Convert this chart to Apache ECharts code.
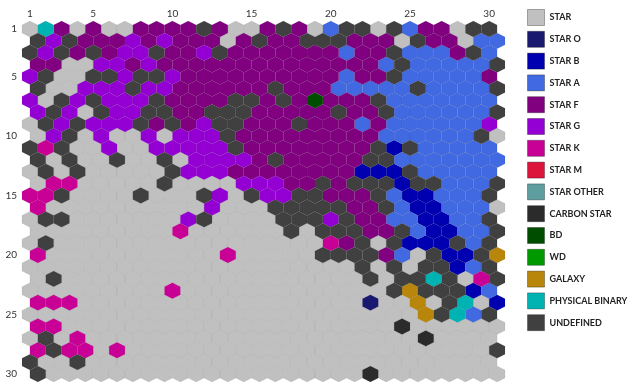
<!DOCTYPE html>
<html>
<head>
<meta charset="utf-8">
<script src="https://cdn.jsdelivr.net/npm/echarts@6/dist/echarts.min.js"></script>
<style>
  html, body { margin: 0; padding: 0; background: #ffffff; }
  #chart { width: 627px; height: 387px; }
</style>
</head>
<body>
<div id="chart"></div>
<script>
// Object classes of the self-organizing map, in legend order
const classNames = ['STAR', 'STAR O', 'STAR B', 'STAR A', 'STAR F', 'STAR G', 'STAR K', 'STAR M',
  'STAR OTHER', 'CARBON STAR', 'BD', 'WD', 'GALAXY', 'PHYSICAL BINARY', 'UNDEFINED'];
const classCodes = ['S', 'O', 'B', 'A', 'F', 'G', 'K', 'M', 'T', 'C', 'D', 'W', 'L', 'P', 'U'];
const classColors = ['#c0c0c0', '#191970', '#0000b0', '#4169e1', '#800080', '#9400d3', '#c90096', '#dc143c',
  '#5f9ea0', '#2b2b2b', '#004d00', '#009a00', '#b8860b', '#00b3b3', '#404040'];

// Dominant class of each map neuron: one string per row (1..30), one letter per column (1..30)
const mapRows = [
  'SPFSFSSFFF' + 'FUFSSFUFSA' + 'UUSUAFFSUU',
  'UGUFFFGFGF' + 'FFSFUFFUUU' + 'FFFSUFFSAA',
  'UGUFUFGGUF' + 'FGUFFFFFFF' + 'AFFUAAAFUA',
  'FFSSGGFGFF' + 'FFFFFFFFFF' + 'FFAUAAAAAU',
  'GUSSUUGUUG' + 'FFFFFFFFFF' + 'AFFUAAAAAF',
  'USSGGGUGGF' + 'FFFFFUFFFA' + 'AAAAUAAAAU',
  'GSUGUGGGUF' + 'FFFUUFUFDF' + 'FFUAAAAAAA',
  'GUGSUGGUUF' + 'FUUUFFFFFU' + 'FFUAAAAAAU',
  'SUGUGGGUFU' + 'FGUUFFFUFF' + 'FAFAAAAAAG',
  'SGUSGSSGSG' + 'GGUFFFFFFF' + 'FFAAAAAAUS',
  'UKUSSGSSGG' + 'GGGUFFFFFF' + 'FFUBUAAAAA',
  'USUSSUSSUS' + 'GGGGFUFFFF' + 'FUUAAAAAAA',
  'SUSUSSSSSU' + 'GGGFFFFFFF' + 'FBBBUAAAAA',
  'SKKSSSSSUS' + 'SSSGGGFFUF' + 'UUUBUUAAAU',
  'KKUSSSSUSS' + 'SUGSUGGUUF' + 'FFUABBAAAU',
  'KSSSSSSSSS' + 'SGSSSUUUUU' + 'FFUABBAAAS',
  'SUUSSSSSSS' + 'GUSSSSUUUG' + 'UFFAABBAAU',
  'SSSSSSSSSK' + 'SSSSSSUSUU' + 'UFFUABBAAU',
  'SUSSSSSSSS' + 'SSSSSSSSSK' + 'FUSUBBBUAU',
  'KSSSSSSSSS' + 'SSKSSSSSUU' + 'UUFASUBBUL',
  'SSSSSSSSSS' + 'SSSSSSSSSS' + 'SUSUSUUBAU',
  'SUSSSSSSSS' + 'SSSSSSSSSS' + 'SUSUUPUSKU',
  'SSSSSSSSSK' + 'SSSSSSSSSS' + 'SSSULUUUBA',
  'KKKSSSSSSS' + 'SSSSSSSSSS' + 'SOSSLSUPSB',
  'SSSSSSSSSS' + 'SSSSSSSSSS' + 'SSSSSLUPAU',
  'KKSSSSSSSS' + 'SSSSSSSSSS' + 'SSSCSSSSSS',
  'SUSKSSSSSS' + 'SSSSSSSSSS' + 'SSSSSCSSSS',
  'KUKKSKSSSS' + 'SSSSSSSSSS' + 'SSSSSSSSSU',
  'USSUSSSSSS' + 'SSSSSSSSSS' + 'SSSSSSSSSS',
  'USSSSSSSSS' + 'SSSSSSSSSS' + 'SCSSSSSSSS'
];

const tickValues = [1, 5, 10, 15, 20, 25, 30];

// Collect [column, row] cells for each class
const cellsByClass = classCodes.map(() => []);
mapRows.forEach((line, ri) => {
  for (let ci = 0; ci < line.length; ci++) {
    const k = classCodes.indexOf(line[ci]);
    if (k >= 0) cellsByClass[k].push([ci + 1, ri + 1]);
  }
});

// Pointy-top hexagon; even rows are shifted half a column to the right
function renderHex(params, api) {
  const col = api.value(0);
  const row = api.value(1);
  const shift = row % 2 === 0 ? 0.5 : 0;
  const c = api.coord([col + shift, row]);
  const e = api.coord([col + shift + 0.5, row]);
  const d = api.coord([col + shift, row + 2 / 3]);
  const hw = e[0] - c[0];
  const hh = d[1] - c[1];
  const pts = [
    [c[0], c[1] - hh], [c[0] + hw, c[1] - hh / 2], [c[0] + hw, c[1] + hh / 2],
    [c[0], c[1] + hh], [c[0] - hw, c[1] + hh / 2], [c[0] - hw, c[1] - hh / 2]
  ];
  return {
    type: 'polygon',
    shape: { points: pts },
    style: { fill: api.visual('color'), stroke: 'rgba(0,0,0,0.09)', lineWidth: 0.6 }
  };
}

const chart = echarts.init(document.getElementById('chart'), null, { renderer: 'canvas' });

const axisLabelStyle = { color: '#333', fontSize: 10, fontFamily: 'Lato, "DejaVu Sans", sans-serif' };

chart.setOption({
  animation: false,
  backgroundColor: '#ffffff',
  grid: { left: 22, right: 122, top: 23, bottom: 7 },
  xAxis: {
    type: 'value', position: 'top', min: 0.5, max: 31,
    axisLine: { show: false }, axisTick: { show: false }, splitLine: { show: false },
    axisLabel: Object.assign({ customValues: tickValues, margin: 4 }, axisLabelStyle)
  },
  yAxis: {
    type: 'value', inverse: true, min: 0.5, max: 30.5,
    axisLine: { show: false }, axisTick: { show: false }, splitLine: { show: false },
    axisLabel: Object.assign({ customValues: tickValues, margin: 5 }, axisLabelStyle)
  },
  legend: {
    orient: 'vertical', left: 527, top: 9, padding: 0,
    itemWidth: 17, itemHeight: 16, itemGap: 4.8,
    icon: 'rect',
    itemStyle: { borderColor: 'rgba(0,0,0,0.3)', borderWidth: 1 },
    textStyle: { color: '#222', fontSize: 9, fontWeight: 'bold', fontFamily: 'Lato, "DejaVu Sans", sans-serif' },
    data: classNames
  },
  series: classNames.map((name, k) => ({
    name: name,
    type: 'custom',
    renderItem: renderHex,
    itemStyle: { color: classColors[k] },
    encode: { x: 0, y: 1 },
    data: cellsByClass[k]
  }))
});
</script>
</body>
</html>
